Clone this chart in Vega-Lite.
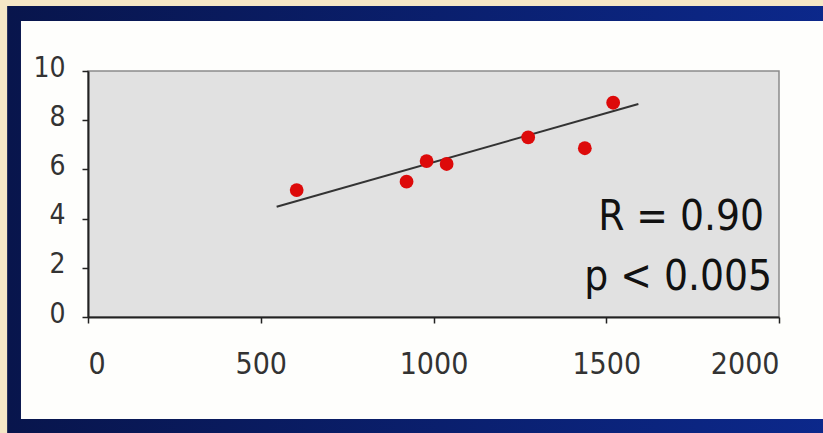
{
  "$schema": "https://vega.github.io/schema/vega-lite/v6.json",
  "width": 691,
  "height": 246,
  "autosize": {"type": "none"},
  "padding": {"left": 88, "top": 71, "right": 44, "bottom": 116},
  "background": "#f5e7c6",
  "config": {
    "view": {"stroke": null, "fill": null},
    "axis": {
      "grid": false,
      "domainColor": "#222222",
      "domainWidth": 2,
      "tickColor": "#222222",
      "tickWidth": 1.5,
      "tickSize": 6,
      "labelFont": "Liberation Sans Narrow, DejaVu Sans Condensed, sans-serif",
      "labelColor": "#333333"
    }
  },
  "layer": [
    {
      "data": {"values": [{}]},
      "mark": {"type": "rect", "color": {"gradient": "linear", "x1": 0, "y1": 0, "x2": 1, "y2": 0, "stops": [{"offset": 0, "color": "#08154c"}, {"offset": 1, "color": "#0c2a92"}]}},
      "encoding": {
        "x": {"datum": -234, "scale": {"domain": [0, 2000], "nice": false}},
        "x2": {"datum": 2400},
        "y": {"datum": 12.64, "scale": {"domain": [0, 10], "nice": false}},
        "y2": {"datum": -5}
      }
    },
    {
      "data": {"values": [{}]},
      "mark": {"type": "rect", "color": "#fefefc"},
      "encoding": {
        "x": {"datum": -194, "scale": {"domain": [0, 2000], "nice": false}},
        "x2": {"datum": 2400},
        "y": {"datum": 12.03, "scale": {"domain": [0, 10], "nice": false}},
        "y2": {"datum": -4.15}
      }
    },
    {
      "data": {"values": [{}]},
      "mark": {"type": "rect", "color": "#e1e1e1", "stroke": "#8a8a8a", "strokeWidth": 1.5},
      "encoding": {
        "x": {"datum": 0, "scale": {"domain": [0, 2000], "nice": false}},
        "x2": {"datum": 2000},
        "y": {"datum": 10, "scale": {"domain": [0, 10], "nice": false}},
        "y2": {"datum": 0}
      }
    },
    {
      "data": {"values": [{"x": 546, "y": 4.48}, {"x": 1593, "y": 8.66}]},
      "mark": {"type": "line", "color": "#333333", "strokeWidth": 2},
      "encoding": {
        "x": {"field": "x", "type": "quantitative", "scale": {"domain": [0, 2000], "nice": false}},
        "y": {"field": "y", "type": "quantitative", "scale": {"domain": [0, 10], "nice": false}}
      }
    },
    {
      "data": {"values": [
        {"x": 604, "y": 5.16},
        {"x": 922, "y": 5.5},
        {"x": 980, "y": 6.34},
        {"x": 1038, "y": 6.22},
        {"x": 1274, "y": 7.3},
        {"x": 1438, "y": 6.86},
        {"x": 1520, "y": 8.71}
      ]},
      "mark": {"type": "circle", "color": "#dd0a0a", "size": 190, "opacity": 1},
      "encoding": {
        "x": {"field": "x", "type": "quantitative", "scale": {"domain": [0, 2000], "nice": false},
              "axis": {"zindex": 1, "title": null, "tickCount": 4, "format": "d", "labelFontSize": 30, "labelPadding": 26}},
        "y": {"field": "y", "type": "quantitative", "scale": {"domain": [0, 10], "nice": false},
              "axis": {"zindex": 1, "title": null, "tickCount": 5, "format": "d", "labelFontSize": 28, "labelPadding": 17, "labelOffset": -3}}
      }
    },
    {
      "data": {"values": [{}]},
      "mark": {"type": "text", "text": "R = 0.90", "align": "right", "baseline": "alphabetic", "font": "Liberation Sans Narrow, DejaVu Sans Condensed, sans-serif", "fontSize": 42, "color": "#111111"},
      "encoding": {
        "x": {"datum": 1957, "scale": {"domain": [0, 2000], "nice": false}},
        "y": {"datum": 3.54, "scale": {"domain": [0, 10], "nice": false}}
      }
    },
    {
      "data": {"values": [{}]},
      "mark": {"type": "text", "text": "p < 0.005", "align": "right", "baseline": "alphabetic", "font": "Liberation Sans Narrow, DejaVu Sans Condensed, sans-serif", "fontSize": 42, "color": "#111111"},
      "encoding": {
        "x": {"datum": 1980, "scale": {"domain": [0, 2000], "nice": false}},
        "y": {"datum": 1.1, "scale": {"domain": [0, 10], "nice": false}}
      }
    }
  ]
}
